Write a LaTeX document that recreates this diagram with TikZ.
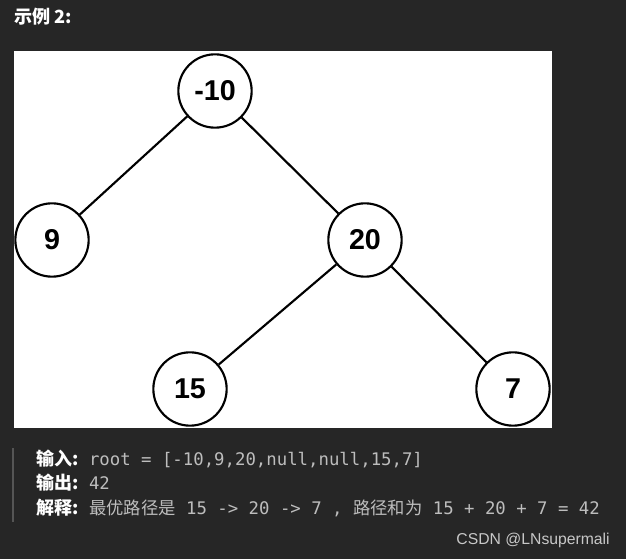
\documentclass[tikz,border=0pt]{standalone}
\usepackage{fontspec}
\setmainfont{Liberation Sans}
\setmonofont{DejaVu Sans Mono}
\newfontfamily\cjk{Noto Sans CJK SC}
\definecolor{pagebg}{HTML}{262626}
\definecolor{codegray}{HTML}{BDBDBD}
\definecolor{bargray}{HTML}{555555}
\definecolor{markgray}{HTML}{C8C8C8}
\begin{document}
\begin{tikzpicture}[x=0.75pt,y=-0.75pt]
        \fill[pagebg] (0,0) rectangle (626,559);
        \useasboundingbox (0,0) rectangle (626,559);
        \fill[white] (14,51) rectangle (552,428);
        \node[anchor=base west,text=white,inner sep=0pt] (title) at (14,24)
          {\cjk\fontsize{13.6}{16}\selectfont\bfseries 示例 2:};
        \begin{scope}[every node/.style={circle,draw=black,line width=1.6pt,fill=white,
            minimum size=55pt,inner sep=0pt,font=\fontsize{21.5}{24}\selectfont\bfseries}]
          \node (n10) at (215,91) {-10};
          \node (n9) at (52,240) {9};
          \node (n20) at (365,240) {20};
          \node (n15) at (190,389) {15};
          \node (n7) at (513,389) {7};
        \end{scope}
        \begin{scope}[every edge/.style={draw=black,line width=1.6pt}]
          \path (n10) edge (n9);
          \path (n10) edge (n20);
          \path (n20) edge (n15);
          \path (n20) edge (n7);
        \end{scope}
        \draw[bargray,line width=1.5pt] (13,448) -- (13,522);
        \begin{scope}[every node/.style={anchor=base west,inner sep=0pt,text=codegray,
            font=\ttfamily\fontsize{13}{15}\selectfont}]
          \node (input) at (36,466) {{\cjk\fontsize{13.5}{15}\selectfont\bfseries\color{white}输入:} root = [-10,9,20,null,null,15,7]};
          \node (output) at (36,490) {{\cjk\fontsize{13.5}{15}\selectfont\bfseries\color{white}输出:} 42};
          \node (explain) at (36,515) {{\cjk\fontsize{13.5}{15}\selectfont\bfseries\color{white}解释:} {\cjk 最优路径是} 15 -> 20 -> 7 , {\cjk 路径和为} 15 + 20 + 7 = 42};
        \end{scope}
        \node[anchor=base east,inner sep=0pt,text=markgray,font=\fontsize{11.8}{13}\selectfont] (mark) at (610,545) {CSDN @LNsupermali};
      \end{tikzpicture}
\end{document}
